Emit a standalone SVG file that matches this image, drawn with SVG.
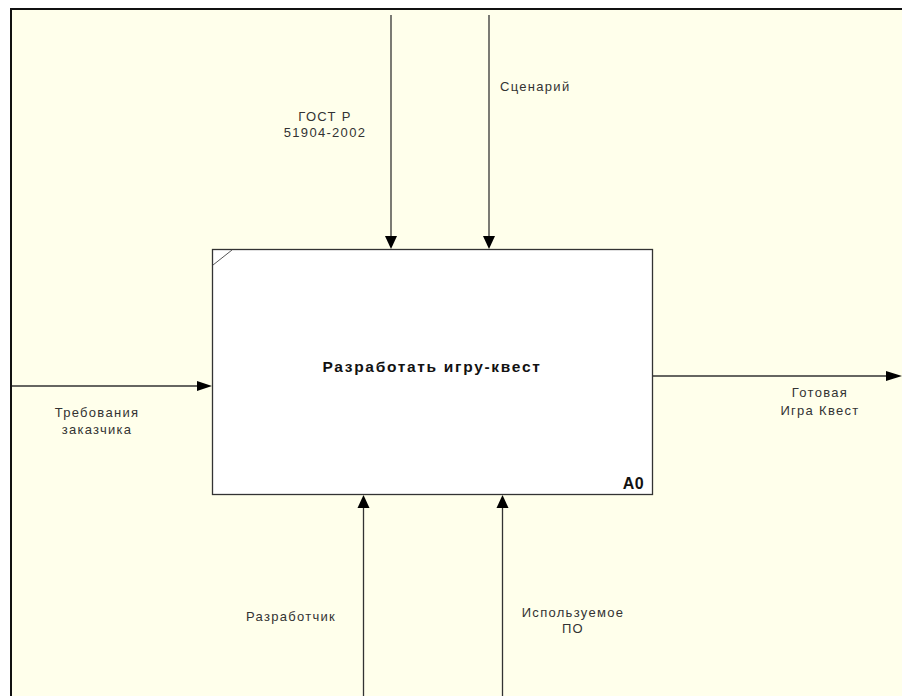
<svg xmlns="http://www.w3.org/2000/svg" width="902" height="696" viewBox="0 0 902 696">
<style>
.lbl{font-family:"Liberation Sans",Arial,sans-serif;font-size:13px;fill:#333;letter-spacing:1.3px}
.ttl{font-family:"Liberation Sans",Arial,sans-serif;font-size:15.5px;font-weight:bold;fill:#111;letter-spacing:1.7px}
.ln{stroke:#333;stroke-width:1.3;fill:none}
.ah{fill:#000}
</style>
<rect x="0" y="0" width="902" height="696" fill="#fff"/>
<rect x="11" y="9" width="900" height="700" fill="#FFFFEB" stroke="#111" stroke-width="2"/>
<g id="connectors">
<line class="ln" x1="391" y1="15" x2="391" y2="240"/>
<polygon class="ah" points="385,236 397,236 391,249"/>
<line class="ln" x1="489" y1="15" x2="489" y2="240"/>
<polygon class="ah" points="483,236 495,236 489,249"/>
<line class="ln" x1="12" y1="386" x2="200" y2="386"/>
<polygon class="ah" points="197,381 197,391 212,386"/>
<line class="ln" x1="653" y1="376" x2="890" y2="376"/>
<polygon class="ah" points="886,371 886,381 902,376"/>
<line class="ln" x1="363.5" y1="506" x2="363.5" y2="696"/>
<polygon class="ah" points="357.5,508 369.5,508 363.5,495"/>
<line class="ln" x1="502.5" y1="506" x2="502.5" y2="696"/>
<polygon class="ah" points="496.5,508 508.5,508 502.5,495"/>
</g>
<g id="A0">
<rect x="212.5" y="249.5" width="440" height="245" fill="#fff" stroke="#333" stroke-width="1.3"/>
<line x1="213" y1="265" x2="232" y2="250" stroke="#555" stroke-width="1"/>
<text class="ttl" x="432" y="372" text-anchor="middle">Разработать игру-квест</text>
<text class="ttl" x="633.5" y="488.5" text-anchor="middle" style="font-size:16px;letter-spacing:0.6px">A0</text>
</g>
<g id="lbl-gost">
<text class="lbl" x="325" y="121" text-anchor="middle">ГОСТ Р</text>
<text class="lbl" x="325" y="137" text-anchor="middle">51904-2002</text>
</g>
<g id="lbl-scen">
<text class="lbl" x="500" y="91">Сценарий</text>
</g>
<g id="lbl-req">
<text class="lbl" x="97" y="417" text-anchor="middle">Требования</text>
<text class="lbl" x="97" y="434" text-anchor="middle">заказчика</text>
</g>
<g id="lbl-out">
<text class="lbl" x="820" y="397" text-anchor="middle">Готовая</text>
<text class="lbl" x="820" y="415" text-anchor="middle">Игра Квест</text>
</g>
<g id="lbl-dev">
<text class="lbl" x="246" y="621">Разработчик</text>
</g>
<g id="lbl-sw">
<text class="lbl" x="573" y="617" text-anchor="middle">Используемое</text>
<text class="lbl" x="573" y="633" text-anchor="middle">ПО</text>
</g>
</svg>
